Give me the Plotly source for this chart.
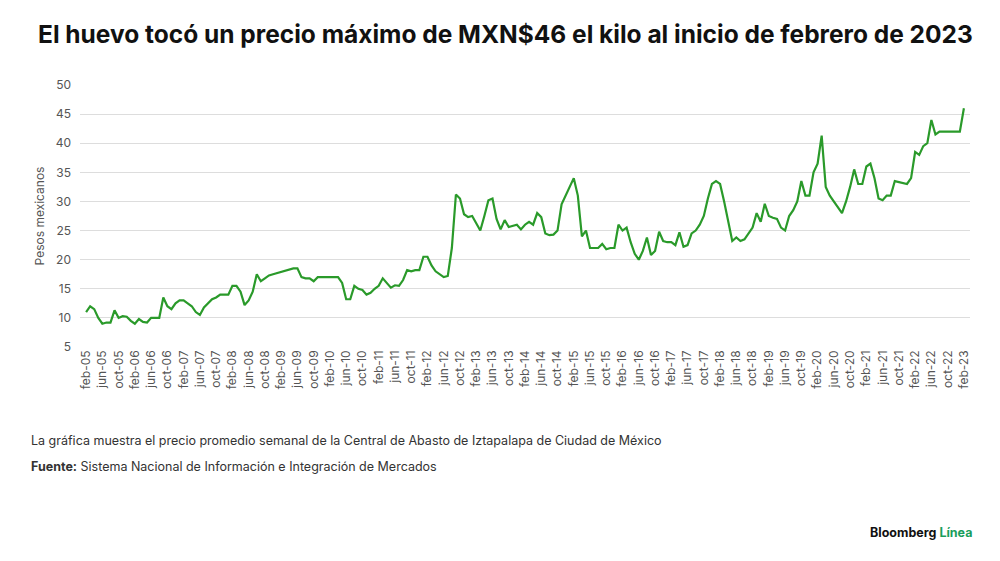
import plotly.graph_objects as go

months_es = ["ene","feb","mar","abr","may","jun","jul","ago","sep","oct","nov","dic"]
y_by_year = [
 [11,12,11.5,10, 9,9.2,9.2,11.3, 10,10.3,10.2,9.5],
 [9,9.8,9.3,9.2, 10,10,10,13.5, 12,11.5,12.5,13],
 [13,12.5,12,11, 10.5,11.8,12.5,13.2, 13.5,14,14,14],
 [15.5,15.5,14.5,12.2, 13,14.5,17.5,16.3, 16.8,17.3,17.5,17.7],
 [18,18.2,18.3,18.5, 18.5,17,16.8,16.8, 16.3,17,17,17],
 [17,17,17,16, 13.2,13.2,15.5,15, 14.8,14,14.3,15],
 [15.5,16.8,16,15.2, 15.6,15.5,16.5,18.2, 18,18.2,18.2,20.5],
 [20.5,19,18,17.5, 17,17.2,22,31.2, 30.5,27.8,27.3,27.5],
 [26.3,25,27.5,30.2, 30.5,27,25.2,26.8, 25.6,25.8,26,25.2],
 [26,26.5,26,28, 27.3,24.5,24.2,24.3, 25,29.5,31,32.5],
 [34,31,24,25, 22,22,22,22.7, 21.8,22,22,26],
 [25,25.5,23,21, 20,21.5,23.8,20.8, 21.5,24.8,23.2,23],
 [23,22.5,24.7,22.2, 22.5,24.5,25,26, 27.5,30.5,33,33.5],
 [33,30,26.5,23.2, 23.8,23.2,23.5,24.5, 25.5,28,26.5,29.6],
 [27.5,27.2,27,25.5, 25,27.5,28.5,30, 33.5,31,31,35],
 [36.5,41.3,32.5,31, 30,29,28,30, 32.5,35.5,33,33],
 [36,36.5,34,30.5, 30.2,31,31,33.5, 33.3,33.2,33,34],
 [38.5,38,39.5,40, 44,41.5,42,42, 42,42,42,42],
]
last_value = 46
values = [v for row in y_by_year for v in row] + [last_value]

labels = []
m, yr = 1, 5
for _ in values:
    labels.append(f"{months_es[m]}-{yr:02d}")
    m += 1
    if m == 12:
        m, yr = 0, yr + 1
tick_labels = labels[::4]

fig = go.Figure(go.Scatter(x=labels, y=values, mode="lines",
                           line=dict(color="#2a9a2a", width=2.2)))
font = "Inter, Roboto, Liberation Sans, sans-serif"
fig.update_layout(
    width=1000, height=561, plot_bgcolor="white", paper_bgcolor="white",
    margin=dict(l=72, r=38, t=77, b=222), showlegend=False,
    font=dict(family=font, color="#555", size=12),
    title=dict(text="<b>El huevo tocó un precio máximo de MXN$46 el kilo al inicio de febrero de 2023</b>",
               x=0.03, xanchor="left", y=0.968, yanchor="top",
               font=dict(size=24.5, color="#111", family=font)),
)
fig.update_xaxes(type="category", tickmode="array", tickvals=tick_labels, ticktext=tick_labels,
                 tickangle=-90, showgrid=False, showline=False, ticks="",
                 tickfont=dict(size=12, color="#555"), range=[-1.5, len(values)+0.5])
fig.update_yaxes(range=[5, 50], dtick=5, showgrid=True, gridcolor="#ddd", zeroline=False,
                 tickfont=dict(size=12, color="#555"), ticklabelstandoff=8,
                 title=dict(text="Pesos mexicanos", font=dict(size=12, color="#555"), standoff=8))
fig.add_annotation(text="La gráfica muestra el precio promedio semanal de la Central de Abasto de Iztapalapa de Ciudad de México",
                   xref="paper", yref="paper", x=-0.057, y=-0.393, xanchor="left", showarrow=False,
                   font=dict(size=12.5, color="#333"))
fig.add_annotation(text="<b>Fuente:</b> Sistema Nacional de Información e Integración de Mercados",
                   xref="paper", yref="paper", x=-0.057, y=-0.493, xanchor="left", showarrow=False,
                   font=dict(size=12.5, color="#333"))
fig.add_annotation(text="<b>Bloomberg <span style='color:#1a9e5c'>Línea</span></b>",
                   xref="paper", yref="paper", x=1.005, y=-0.745, xanchor="right", showarrow=False,
                   font=dict(size=12.5, color="#111"))
fig.write_html("out.html")
